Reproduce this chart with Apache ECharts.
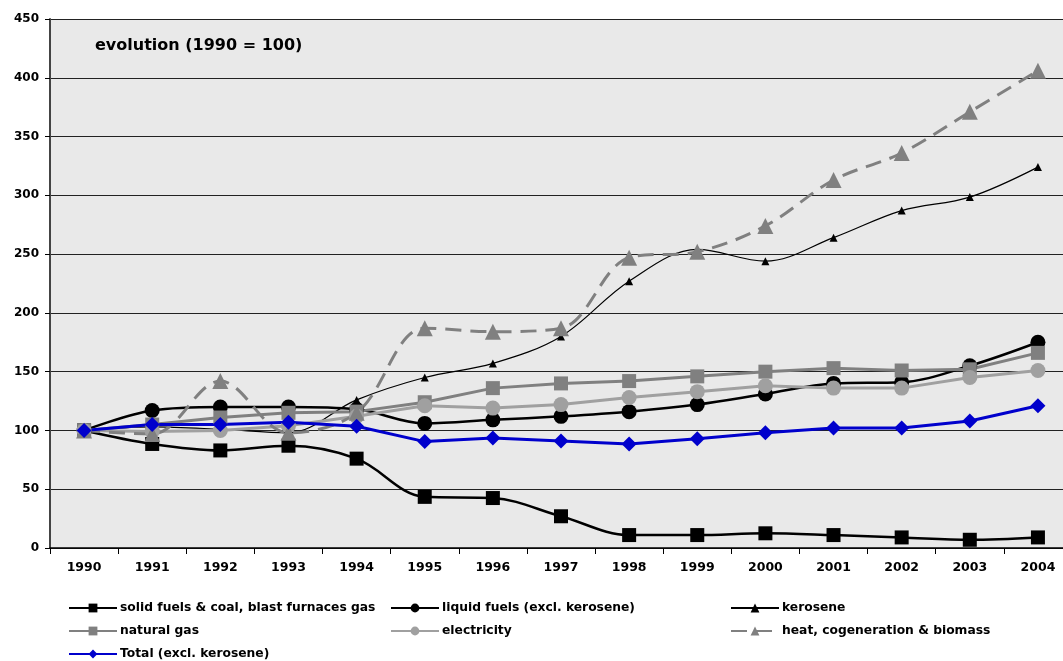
<!DOCTYPE html>
<html><head><meta charset="utf-8">
<script src="https://cdn.jsdelivr.net/npm/echarts@6/dist/echarts.min.js"></script>
<style>html,body{margin:0;padding:0;overflow:hidden;background:#fff}#c{width:1073px;height:661px}</style>
</head><body><div id="c"></div>
<script>
const years = ['1990','1991','1992','1993','1994','1995','1996','1997','1998','1999','2000','2001','2002','2003','2004'];
const solidFuels = [100,88.5,83,87,76,43.5,42.5,27,11,11,12.5,11,9,7,9];
const liquidFuels = [100,117,120,120,118,106,109,112,116,122,131,140,141,155,175];
const kerosene = [100,103,101,98,126,145,157,180,227,254,244,264,287,298.5,324];
const naturalGas = [100,105,111,115,116,124,136,140,142,146,150,153,151,152,166];
const electricity = [100,99,100,104,112,121,119,122,128,133,138,136,136,145,151];
const heat = [100,97,142,98,115,187,184,187,247,252,274,313,336,371,406];
const total = [100,105,105,107,103.5,90.5,93.5,91,88.5,93,98,102,102,108,121];
const yTicks = [0,50,100,150,200,250,300,350,400,450];
const names = ['solid fuels & coal, blast furnaces gas','liquid fuels (excl. kerosene)','kerosene','natural gas','electricity','heat, cogeneration & biomass','Total (excl. kerosene)'];

const font = '"DejaVu Sans", Verdana, sans-serif';
const chart = echarts.init(document.getElementById('c'));
function s(name, data, color, sym, size, width, smooth, dash) {
  return {name, type:'line', data, smooth: smooth ? 0.35 : false, symbol: sym, symbolSize: size,
    lineStyle:{color, width, type: dash ? [16,9] : 'solid'}, itemStyle:{color, borderWidth:0}, emphasis:{disabled:true}, z:2};
}
const legendCommon = {orient:'vertical', top:597, height:80, itemWidth:48, itemHeight:11, itemGap:11,
  textStyle:{fontFamily:font, fontWeight:'bold', fontSize:12.3, color:'#000', padding:[0,0,0,-2]}};
chart.setOption({
  animation:false,
  backgroundColor:'#fff',
  grid:{left:50, right:1, top:19, bottom:113, show:true, backgroundColor:'#e9e9e9', borderWidth:0},
  graphic:[{type:'text', left:95, top:38, style:{text:'evolution (1990 = 100)', font:'bold 16px '+font, fill:'#000'}}],
  legend:[
    Object.assign({left:63, data:[names[0],names[3],names[6]]}, legendCommon),
    Object.assign({left:385, data:[names[1],names[4]]}, legendCommon),
    Object.assign({left:725, data:[names[2],names[5]]}, legendCommon)
  ],
  xAxis:{type:'category', data:years, boundaryGap:true,
    axisLine:{lineStyle:{color:'#000', width:1.5}},
    axisTick:{show:true, length:6, lineStyle:{color:'#000'}},
    axisLabel:{fontFamily:font, fontWeight:'bold', fontSize:12.5, color:'#000', margin:13}},
  yAxis:{type:'value', min:0, max:450, interval:50,
    axisLine:{show:true, lineStyle:{color:'#444', width:2}},
    axisTick:{show:true, length:5, lineStyle:{color:'#000'}},
    splitLine:{lineStyle:{color:'#222', width:1}},
    axisLabel:{fontFamily:font, fontWeight:'bold', fontSize:12, color:'#000', margin:11,
      formatter: v => yTicks.includes(v) ? String(v) : ''}},
  series:[
    s(names[0], solidFuels, '#000', 'rect', 14, 2.5, true),
    s(names[1], liquidFuels, '#000', 'circle', 15, 2.5, true),
    s(names[2], kerosene, '#000', 'triangle', 8, 1.2, true),
    s(names[3], naturalGas, '#808080', 'rect', 14, 3, false),
    s(names[4], electricity, '#a0a0a0', 'circle', 15, 3, false),
    s(names[5], heat, '#808080', 'triangle', 16, 3, true, true),
    s(names[6], total, '#0000cc', 'diamond', 15, 3, false)
  ]
});
</script></body></html>
